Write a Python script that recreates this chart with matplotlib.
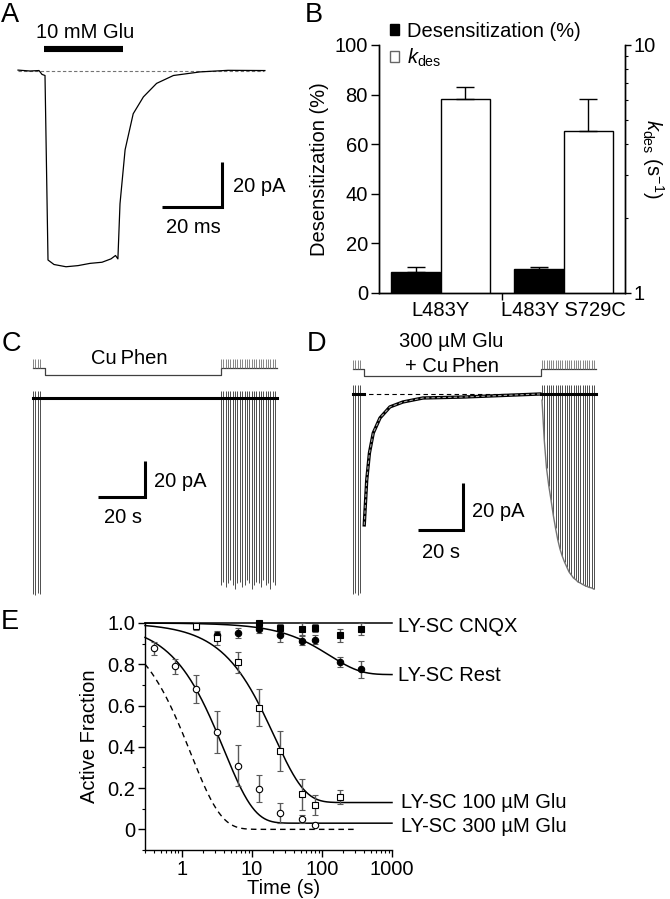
"""Five-panel figure: Glu response, desensitization bars, CuPhen traces, recovery curves."""

import matplotlib.pyplot as plt
import numpy as np
from matplotlib.patches import Patch
from matplotlib.ticker import NullFormatter

plt.rcParams["font.family"] = ["Liberation Sans", "DejaVu Sans"]
plt.rcParams["font.size"] = 14.5
plt.rcParams["mathtext.fontset"] = "custom"
plt.rcParams["mathtext.rm"] = "Liberation Sans"
plt.rcParams["mathtext.it"] = "Liberation Sans:italic"
plt.rcParams["axes.linewidth"] = 1.0

W, H = 670, 899

# panel A: response to 10 mM Glu (ms, pA)
A_TIME = [0, 4, 7, 8.0, 9.0, 10.0, 12, 16, 20, 24, 28, 31, 32.5, 33.3,
          34.0, 35.7, 38.4, 41.8, 46.2, 51.8, 60.7, 70, 82.3]
A_CURRENT = [0.4, 0.0, 0.2, -1.5, -2.0, -84, -86, -87, -86.5, -85.5, -85,
             -83.5, -82, -83.5, -59, -35, -19, -11.5, -5.5, -2.0, -0.4, 0.3, 0.2]
A_GLU_ON, A_GLU_OFF = 8.7, 35.0

# panel B
B_GROUPS = ["L483Y", "L483Y S729C"]
DES_PCT = [8.5, 9.5]
DES_ERR = [2.0, 0.8]
KDES = [6.04, 4.52]
KDES_ERR = [0.75, 1.52]

# panel C: CuPhen alone (s, pA)
C_PRE_TIME = [0, 1, 2, 3]
C_PRE_PEAK = [-109, -109.5, -108.5, -109]
C_POST_TIME = [80, 81, 82, 83, 84, 85, 86, 87, 88, 89, 90, 91,
               92, 93, 94, 95, 96, 97, 98, 99, 100, 101, 102, 103]
C_POST_PEAK = [-104, -102, -105, -103, -101, -104, -106, -103, -102, -105,
               -104, -101, -103, -106, -104, -102, -103, -105, -101, -104,
               -103, -106, -102, -104]
C_PHEN_ON, C_PHEN_OFF, C_END = 5.1, 80.0, 104.0

# panel D: 300 uM Glu + CuPhen (s, pA)
D_PRE_TIME = [0, 1, 2, 3]
D_PRE_PEAK = [-85, -84.5, -85.5, -84.5]
D_DES_TIME = [5.0, 6.1, 7.3, 9.0, 12.0, 16.4, 22.2, 31.1, 48.9, 83.1]
D_DES_CURRENT = [-55.7, -36.6, -25.1, -16.6, -10.2, -5.5, -3.4, -1.7, -1.3, 0]
D_POST_TIME = [84, 85, 86, 87, 88, 89, 90, 91, 92, 93, 94, 95,
               96, 97, 98, 99, 100, 101, 102, 103, 104, 105, 106, 107]
D_POST_PEAK = [-2.6, -19.6, -31.5, -39, -45, -51.5, -57, -62, -66, -69,
               -71.5, -73.6, -75.7, -77, -78.3, -79, -80, -80.4, -81, -81.5,
               -81.9, -82.3, -82.5, -83]
D_PHEN_ON, D_PHEN_OFF, D_END = 4.9, 83.6, 108.0

# panel E: active fraction vs time
CNQX_TIME = [12.8, 25.6, 51.2, 80, 180, 360]
CNQX_FRAC = [1.0, 0.975, 0.97, 0.977, 0.94, 0.97]
CNQX_ERR = [0.01, 0.02, 0.03, 0.02, 0.03, 0.03]

REST_TIME = [3.2, 6.4, 12.8, 25.6, 51.2, 80, 180, 360]
REST_FRAC = [0.94, 0.953, 0.97, 0.94, 0.915, 0.92, 0.81, 0.775]
REST_ERR = [0.02, 0.025, 0.02, 0.03, 0.02, 0.02, 0.025, 0.04]

GLU100_TIME = [1.6, 3.2, 6.4, 12.8, 25.6, 51.2, 80, 180]
GLU100_FRAC = [0.985, 0.925, 0.81, 0.59, 0.38, 0.17, 0.117, 0.157]
GLU100_ERR = [0.02, 0.03, 0.05, 0.09, 0.098, 0.075, 0.048, 0.034]

GLU300_TIME = [0.4, 0.8, 1.6, 3.2, 6.4, 12.8, 25.6, 51.2, 80]
GLU300_FRAC = [0.877, 0.79, 0.68, 0.472, 0.309, 0.197, 0.079, 0.05, 0.019]
GLU300_ERR = [0.03, 0.035, 0.07, 0.103, 0.1, 0.065, 0.05, 0.02, 0.0]

# single-exponential fits: plateau and time constant (s)
FIT_PLATEAU = [1.0, 0.75, 0.13, 0.03]
FIT_TAU = [np.inf, 130.0, 21.0, 4.0]
FIT_LABELS = ["LY-SC CNQX", "LY-SC Rest", "LY-SC 100 \u00b5M Glu", "LY-SC 300 \u00b5M Glu"]
LABEL_Y = [0.955, 0.72, 0.105, -0.013]
DASH_TAU = 1.35


def px_axes(fig, x0, y0, x1, y1):
    return fig.add_axes([x0 / W, 1 - y1 / H, (x1 - x0) / W, (y1 - y0) / H])


def trace_axes(fig, box, origin, px_per_x, px_per_y):
    x0, y0, x1, y1 = box
    ax = px_axes(fig, *box)
    ax.set_xlim((x0 - origin[0]) / px_per_x, (x1 - origin[0]) / px_per_x)
    ax.set_ylim((origin[1] - y1) / px_per_y, (origin[1] - y0) / px_per_y)
    ax.axis("off")
    return ax


def scale_bar(ax, x_right, y_bottom, dx, dy):
    ax.plot([x_right - dx, x_right, x_right], [y_bottom, y_bottom, y_bottom + dy],
            color="black", lw=2.2, solid_capstyle="butt", solid_joinstyle="miter")


def protocol(ax, t_on, t_off, t_end, high, low, tick_top, tick_times):
    ax.plot([0, t_on, t_on, t_off, t_off, t_end],
            [high, high, low, low, high, high], color="0.25", lw=0.9)
    ax.vlines(tick_times, high, tick_top, color="0.45", lw=0.6)


fig = plt.figure(figsize=(W / 100, H / 100), dpi=100)

# ---------------- A
ax_a = trace_axes(fig, (5, 20, 300, 300), (18, 71), 3.0, 2.25)
ax_a.plot([0, 82], [0, 0], color="0.45", lw=0.8, ls=(0, (3, 2)))
ax_a.plot(A_TIME, A_CURRENT, color="black", lw=0.9)
ax_a.plot([A_GLU_ON, A_GLU_OFF], [9.6, 9.6], color="black", lw=4.4,
          solid_capstyle="butt")
ax_a.text(22.5, 14.5, "10 mM Glu", ha="center", va="baseline")
scale_bar(ax_a, 68, -60.4, 20, 20)
ax_a.text(71.7, -53.6, "20 pA", ha="left", va="baseline")
ax_a.text(58.3, -72, "20 ms", ha="center", va="baseline")

# ---------------- B
ax_b = px_axes(fig, 379, 45, 625, 293)
ax_b.set_xlim(-0.75, 4.25)
ax_b.set_ylim(0, 100)
black_pos = [0, 2.5]
white_pos = [1, 3.5]
ax_b.bar(black_pos, DES_PCT, width=1, color="black", edgecolor="black", lw=1)
ax_b.errorbar(black_pos, DES_PCT, yerr=[[0, 0], DES_ERR], fmt="none",
              ecolor="black", elinewidth=1, capsize=6.5, capthick=1)
ax_b.set_yticks(range(0, 101, 20))
ax_b.tick_params(axis="y", direction="out", length=6, width=1, pad=2)
ax_b.set_xticks([0.5, 3.0], B_GROUPS)
ax_b.set_xticks([1.75], minor=True)
ax_b.tick_params(axis="x", which="major", length=0, pad=6)
ax_b.tick_params(axis="x", which="minor", direction="out", length=5, width=1)
ax_b.spines["top"].set_visible(False)
ax_b.set_ylabel("Desensitization (%)", labelpad=4)

ax_k = ax_b.twinx()
ax_k.set_yscale("log")
ax_k.set_ylim(1, 10)
ax_k.bar(white_pos, [k - 1 for k in KDES], bottom=1, width=1, color="white",
         edgecolor="black", lw=1)
ax_k.errorbar(white_pos, KDES, yerr=[[0, 0], KDES_ERR], fmt="none",
              ecolor="black", elinewidth=1, capsize=6.5, capthick=1)
ax_k.set_yticks([1, 10], ["1", "10"])
ax_k.yaxis.set_minor_formatter(NullFormatter())
ax_k.tick_params(axis="y", which="major", direction="out", length=4, width=1, pad=2)
ax_k.tick_params(axis="y", which="minor", direction="out", length=2.5, width=0.8)
ax_k.spines["top"].set_visible(False)
ax_k.set_ylabel(r"$k_{\rm des}$ (s$^{-1}$)", rotation=270, va="center", ha="center")
ax_k.yaxis.set_label_coords(1.115, 0.54)
ax_k.legend(
    handles=[Patch(facecolor="black", edgecolor="black"),
             Patch(facecolor="white", edgecolor="0.4")],
    labels=["Desensitization (%)", r"$k_{\rm des}$"],
    loc="upper left", bbox_to_anchor=(390 / W, 1 - 22 / H),
    bbox_transform=fig.transFigure, frameon=False, borderpad=0,
    borderaxespad=0, handlelength=0.45, handleheight=0.45,
    handletextpad=0.4, labelspacing=0.3,
)

# ---------------- C
ax_c = trace_axes(fig, (15, 330, 320, 615), (33, 398), 2.35, 1.8)
protocol(ax_c, C_PHEN_ON, C_PHEN_OFF, C_END, 16.7, 12.8, 21.5,
         C_PRE_TIME + C_POST_TIME)
ax_c.vlines(C_PRE_TIME + C_POST_TIME, 4, C_PRE_PEAK + C_POST_PEAK,
            color="0.3", lw=0.7)
ax_c.plot([0, C_END], [0, 0], color="black", lw=2.2)
ax_c.text(40.9, 18.7, "Cu\u2009Phen", ha="center", va="baseline")
scale_bar(ax_c, 47.7, -54.8, 20, 20)
ax_c.text(51.5, -49.3, "20 pA", ha="left", va="baseline")
ax_c.text(38.1, -69.6, "20 s", ha="center", va="baseline")

# ---------------- D
ax_d = trace_axes(fig, (335, 320, 665, 615), (353, 394), 2.25, 2.35)
protocol(ax_d, D_PHEN_ON, D_PHEN_OFF, D_END, 10.5, 7.7, 14.5,
         D_PRE_TIME + D_POST_TIME)
ax_d.plot([0, D_END], [0, 0], color="black", lw=0.8, ls=(0, (4, 3)))
ax_d.vlines(D_PRE_TIME + D_POST_TIME, 4, D_PRE_PEAK + D_POST_PEAK,
            color="0.3", lw=0.7)
ax_d.plot(D_POST_TIME, D_POST_PEAK, color="0.45", lw=1.0)
ax_d.plot([0, D_PHEN_ON], [0, 0], color="black", lw=2.2)
ax_d.plot([D_PHEN_OFF, D_END], [0, 0], color="black", lw=2.2)
ax_d.plot(D_DES_TIME, D_DES_CURRENT, color="black", lw=2.4)
ax_d.plot(D_DES_TIME, D_DES_CURRENT, color="0.65", lw=0.8, ls=(0, (3, 2)))
ax_d.text(43.5, 20.1, "300 \u00b5M Glu", ha="center", va="baseline")
ax_d.text(44.1, 9.5, "+ Cu\u2009Phen", ha="center", va="baseline")
scale_bar(ax_d, 49, -57.9, 20, 20)
ax_d.text(52.7, -52.5, "20 pA", ha="left", va="baseline")
ax_d.text(39, -69.9, "20 s", ha="center", va="baseline")

# ---------------- E
ax_e = px_axes(fig, 145, 623, 392, 850)
ax_e.set_xscale("log")
t_fit = np.logspace(np.log10(0.3), 3, 400)
for plateau, tau in zip(FIT_PLATEAU, FIT_TAU):
    ax_e.plot(t_fit, plateau + (1 - plateau) * np.exp(-t_fit / tau),
              color="black", lw=1.1)
t_dash = np.logspace(np.log10(0.3), np.log10(300), 300)
ax_e.plot(t_dash, np.exp(-t_dash / DASH_TAU), color="black", lw=1.0,
          ls=(0, (4, 3)))

series = [
    (CNQX_TIME, CNQX_FRAC, CNQX_ERR, "s", "black"),
    (REST_TIME, REST_FRAC, REST_ERR, "o", "black"),
    (GLU100_TIME, GLU100_FRAC, GLU100_ERR, "s", "white"),
    (GLU300_TIME, GLU300_FRAC, GLU300_ERR, "o", "white"),
]
for t, frac, err, marker, face in series:
    ax_e.errorbar(t, frac, yerr=err, fmt=marker, ms=4.6, mfc=face, mec="black",
                  mew=0.8, ecolor="0.35", elinewidth=1, capsize=2, capthick=1)
for artist in ax_e.get_children():
    artist.set_clip_on(False)

ax_e.set_xlim(0.3, 1000)
ax_e.set_ylim(-0.1, 1.0)
ax_e.spines["top"].set_visible(False)
ax_e.spines["right"].set_visible(False)
ax_e.set_yticks([0, 0.2, 0.4, 0.6, 0.8, 1.0], ["0", "0.2", "0.4", "0.6", "0.8", "1.0"])
ax_e.set_yticks([-0.1, 0.1, 0.3, 0.5, 0.7, 0.9], minor=True)
ax_e.set_xticks([1, 10, 100, 1000], ["1", "10", "100", "1000"])
ax_e.xaxis.set_minor_formatter(NullFormatter())
ax_e.tick_params(which="major", direction="out", length=5, width=1, pad=2)
ax_e.tick_params(which="minor", direction="out", length=2.5, width=0.8)
ax_e.set_ylabel("Active Fraction", labelpad=6)
ax_e.set_xlabel("Time (s)", labelpad=1)
ax_e.xaxis.set_label_coords(0.56, -0.128)
for label, y in zip(FIT_LABELS, LABEL_Y):
    x = 1.024 if "CNQX" in label or "Rest" in label else 1.035
    ax_e.text(x, y, label, transform=ax_e.get_yaxis_transform(),
              ha="left", va="baseline")

# panel letters
for letter, x, y in [("A", 1, 22), ("B", 305, 22), ("C", 2, 351),
                     ("D", 307, 351), ("E", 1, 629)]:
    fig.text(x / W, 1 - y / H, letter, fontsize=19.5, ha="left", va="baseline")

fig.savefig("out.png", dpi=100)
